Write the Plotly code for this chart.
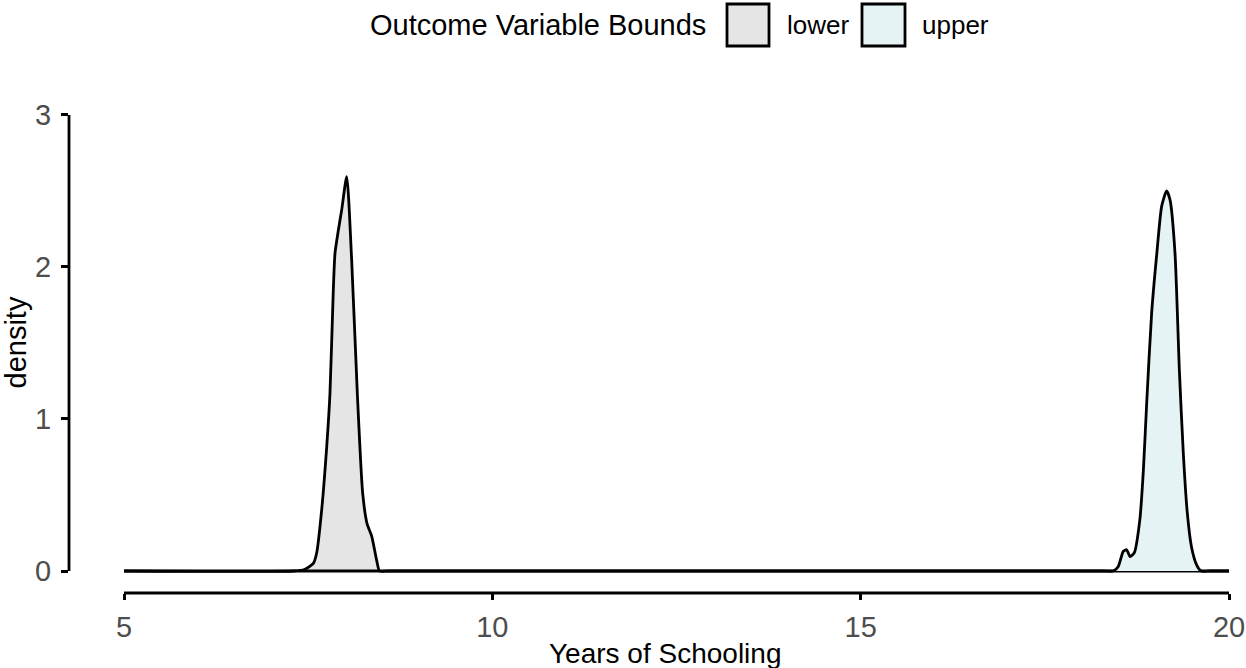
import plotly.graph_objects as go

# ---- data ----
lower_x = [5.0, 7.30, 7.45, 7.57, 7.616, 7.683, 7.752, 7.796, 7.84, 7.864, 7.909,
           7.955, 8.023, 8.09, 8.167, 8.24, 8.30, 8.362, 8.43, 8.47, 8.60, 20.0]
lower_y = [0.0, 0.0, 0.01, 0.05, 0.12, 0.40, 0.82, 1.17, 1.83, 2.09, 2.24,
           2.375, 2.594, 2.05, 1.17, 0.51, 0.31, 0.23, 0.07, 0.0, 0.0, 0.0]

upper_x = [5.0, 18.30, 18.43, 18.497, 18.565, 18.61, 18.656, 18.714, 18.79, 18.837,
           18.882, 18.95, 19.02, 19.086, 19.153, 19.20, 19.267, 19.326, 19.38,
           19.434, 19.49, 19.56, 19.62, 19.75, 20.0]
upper_y = [0.0, 0.0, 0.0, 0.03, 0.13, 0.14, 0.095, 0.12, 0.34, 0.66,
           1.10, 1.70, 2.09, 2.40, 2.50, 2.44, 2.09, 1.32, 0.77,
           0.38, 0.16, 0.04, 0.0, 0.0, 0.0]

series_names = ["lower", "upper"]
fill_colors = ["#E5E5E5", "#E5F3F4"]
x_ticks = [5, 10, 15, 20]
y_ticks = [0, 1, 2, 3]
legend_title = "Outcome Variable Bounds"
x_title = "Years of Schooling"
y_title = "density"

FONT = "Liberation Sans, Arial, sans-serif"
LW = 2.8

fig = go.Figure()
for name, xs, ys, fc in zip(series_names, [lower_x, upper_x], [lower_y, upper_y], fill_colors):
    fig.add_trace(go.Scatter(
        x=xs, y=ys, name=name, mode="lines",
        line=dict(color="black", width=LW, shape="spline", smoothing=0.6),
        fill="tozeroy", fillcolor=fc, showlegend=False,
    ))

W, H = 1246, 668
ml, mr, mt, mb = 69, 13, 92, 75
pw = W - ml - mr
ph = H - mt - mb

def px_x(p):
    return (p - ml) / pw

def px_y(p):
    return (H - mb - p) / ph

fig.update_layout(
    width=W, height=H, autosize=False,
    margin=dict(l=ml, r=mr, t=mt, b=mb, pad=0),
    paper_bgcolor="white", plot_bgcolor="white",
    font=dict(family=FONT, color="black"),
    showlegend=False,
    xaxis=dict(
        range=[4.2534, 20.054], tickvals=x_ticks, ticktext=[str(v) for v in x_ticks],
        showgrid=False, zeroline=False, showline=False, automargin=False,
        ticks="outside", ticklen=6, tickwidth=LW, tickcolor="black",
        tickfont=dict(family=FONT, size=29, color="#4D4D4D"),
        ticklabelstandoff=2,
    ),
    yaxis=dict(
        range=[-0.1447, 3.151], tickvals=y_ticks, ticktext=[str(v) for v in y_ticks],
        showgrid=False, zeroline=False, showline=False, automargin=False,
        ticks="outside", ticklen=7, tickwidth=LW, tickcolor="black",
        tickfont=dict(family=FONT, size=29, color="#4D4D4D"),
        ticklabelstandoff=4,
    ),
)

# capped axis lines
fig.add_shape(type="line", xref="x", yref="paper", x0=x_ticks[0], x1=x_ticks[-1], y0=0, y1=0,
              line=dict(color="black", width=LW))
fig.add_shape(type="line", xref="paper", yref="y", x0=0, x1=0, y0=y_ticks[0], y1=y_ticks[-1],
              line=dict(color="black", width=LW))

# axis titles
fig.add_annotation(text=x_title, xref="paper", yref="paper", x=px_x(665), y=px_y(653),
                   xanchor="center", yanchor="middle", showarrow=False,
                   font=dict(family=FONT, size=28, color="black"))
fig.add_annotation(text=y_title, xref="paper", yref="paper", x=px_x(15), y=0.5,
                   xanchor="center", yanchor="middle", textangle=-90, showarrow=False,
                   font=dict(family=FONT, size=29, color="black"))

# manual legend
fig.add_annotation(text=legend_title, xref="paper", yref="paper", x=px_x(708), y=px_y(25),
                   xanchor="right", yanchor="middle", showarrow=False,
                   font=dict(family=FONT, size=29, color="black"))
box_x = [(727, 769), (862, 905)]
label_x = [785, 920]
for name, fc, (bx0, bx1), lx in zip(series_names, fill_colors, box_x, label_x):
    fig.add_shape(type="rect", xref="paper", yref="paper",
                  x0=px_x(bx0), x1=px_x(bx1), y0=px_y(46), y1=px_y(4),
                  fillcolor=fc, line=dict(color="black", width=LW))
    fig.add_annotation(text=name, xref="paper", yref="paper", x=px_x(lx), y=px_y(25),
                       xanchor="left", yanchor="middle", showarrow=False,
                       font=dict(family=FONT, size=26, color="black"))

fig.write_html("out.html")
